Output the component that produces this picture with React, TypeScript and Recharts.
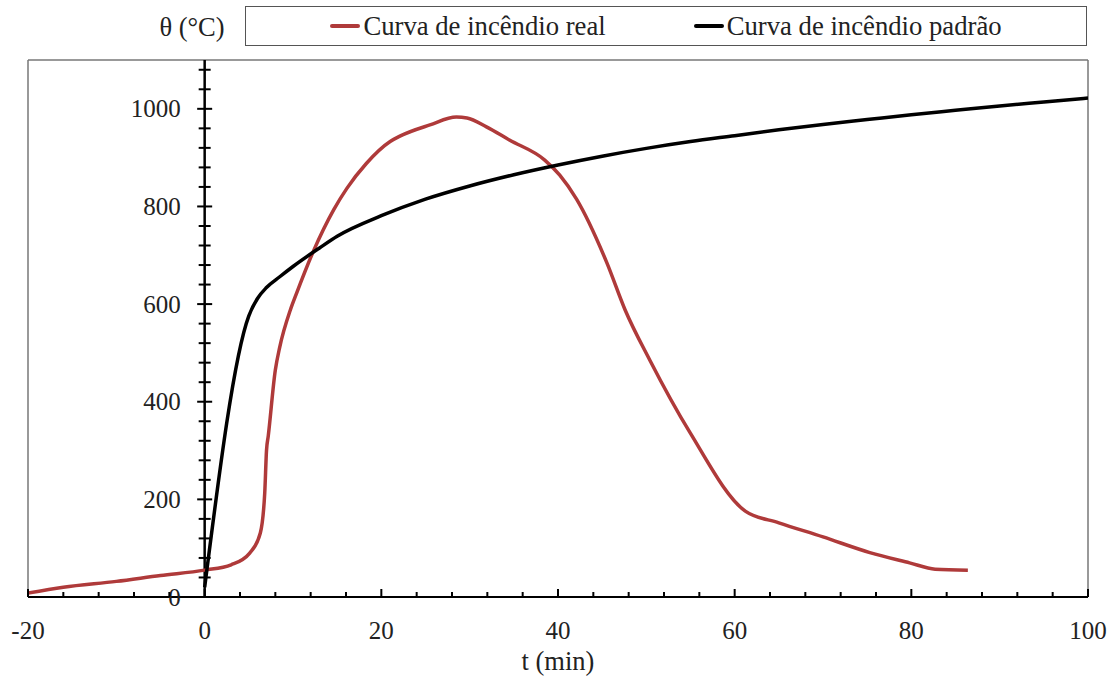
import React from 'react'
import { LineChart, Line, XAxis, YAxis, ReferenceLine, ReferenceDot, Legend } from 'recharts'

// curva de incêndio real (t em min, θ em °C)
const realTime = [-20, -16, -10, -5, 0, 3, 5.1, 6.3, 6.8, 7.0, 7.2, 8, 8.5, 9.7, 10.4, 12.3, 14.6, 16.1, 18.3, 21.0, 22.1, 25.5, 28.5, 29.7, 31.9, 34.5, 38.5, 40.2, 42.1, 45.5, 47.6, 50.4, 55, 61.2, 65, 70, 75.3, 79.8, 82.7, 86.4]
const realTemp = [8, 20, 32, 44, 55, 66, 90, 131, 213, 300, 330, 465, 512, 588, 622, 708, 793, 837, 888, 933, 944, 967, 983, 981, 963, 936, 895, 864, 815, 686, 588, 485, 335, 176, 152, 123, 91, 70, 57, 55]

// curva de incêndio padrão
const isoTime = [0, 5, 6, 7, 8.5, 10, 13, 15, 20, 25, 30, 35, 40, 45, 50, 55, 60, 65, 70, 75, 80, 85, 90, 95, 100]
const isoTemp = [20, 576, 612, 634, 656, 677, 715, 739, 781, 815, 842, 865, 885, 903, 919, 933, 945, 957, 968, 978, 988, 997, 1006, 1014, 1022]

const xTicks = [-20, 0, 20, 40, 60, 80, 100]
const xMinorTicks = [-16, -12, -8, -4, 4, 8, 12, 16, 24, 28, 32, 36, 44, 48, 52, 56, 64, 68, 72, 76, 84, 88, 92, 96]
const yTicks = [0, 200, 400, 600, 800, 1000]
const yMinorTicks = [40, 80, 120, 160, 240, 280, 320, 360, 440, 480, 520, 560, 640, 680, 720, 760, 840, 880, 920, 960, 1040, 1080]

const seriesNames = ['Curva de incêndio real', 'Curva de incêndio padrão']

const realData = realTime.map((t, i) => ({ t, real: realTemp[i] }))
const isoData = isoTime.map((t, i) => ({ t, iso: isoTemp[i] }))

const FONT = '"Liberation Serif", "Times New Roman", serif'
const TEXT = '#222'
const RED = '#AF3A3A'

const YTickMark = (major: boolean, value: number) => (p: any) => (
  <g>
    <line x1={p.cx - (major ? 7.5 : 6)} x2={p.cx + (major ? 7.5 : 6)} y1={p.cy} y2={p.cy} stroke="#000" strokeWidth={2} />
    {major && (
      <text x={p.cx - 24} y={p.cy} textAnchor="end" dominantBaseline="central" fontSize={25} fill={TEXT} fontFamily={FONT}>
        {value}
      </text>
    )}
  </g>
)

const XTickMark = (major: boolean) => (p: any) => (
  <line x1={p.cx} x2={p.cx} y1={p.cy} y2={p.cy - (major ? 8 : 5)} stroke="#000" strokeWidth={2} />
)

const LegendBox = (props: any) => {
  const items = [...(props.payload || [])].sort(
    (a: any, b: any) => seriesNames.indexOf(a.value) - seriesNames.indexOf(b.value)
  )
  return (
    <div
      style={{
        border: '1.5px solid #555',
        height: 40,
        display: 'flex',
        alignItems: 'center',
        justifyContent: 'center',
        gap: 88,
        fontFamily: FONT,
        fontSize: 26.7,
        color: TEXT,
        boxSizing: 'border-box',
        background: '#fff',
      }}
    >
      {items.map((e: any) => (
        <div key={e.value} style={{ display: 'flex', alignItems: 'center' }}>
          <span style={{ display: 'inline-block', width: 30, height: 4, borderRadius: 2, background: e.color, marginRight: 3 }} />
          <span>{e.value}</span>
        </div>
      ))}
    </div>
  )
}

export default function App() {
  return (
    <div style={{ position: 'absolute', left: 0, top: 0, width: 1119, height: 679, background: '#fff' }}>
      <div
        style={{
          position: 'absolute',
          left: 140,
          top: 12,
          width: 104,
          textAlign: 'center',
          fontFamily: FONT,
          fontSize: 26.5,
          color: TEXT,
        }}
      >
        θ (°C)
      </div>
      <LineChart width={1119} height={679} margin={{ top: 60, right: 31, bottom: 22, left: 28 }}>
        <XAxis
          type="number"
          dataKey="t"
          domain={[-20, 100]}
          ticks={xTicks}
          allowDataOverflow
          axisLine={{ stroke: '#000', strokeWidth: 2 }}
          tickLine={false}
          tickSize={0}
          tickMargin={24}
          height={60}
          tick={{ fontSize: 25, fill: TEXT, fontFamily: FONT }}
          label={{ value: 't (min)', position: 'insideBottom', offset: -13, fontSize: 26.5, fill: TEXT, fontFamily: FONT }}
        />
        <YAxis type="number" domain={[0, 1100]} hide width={0} allowDataOverflow />
        <ReferenceLine x={-20} stroke="#777" strokeWidth={1.5} />
        <ReferenceLine x={100} stroke="#777" strokeWidth={1.5} />
        <ReferenceLine y={1100} stroke="#777" strokeWidth={1.5} />
        <ReferenceLine x={0} stroke="#000" strokeWidth={2.5} />
        {yTicks.map((v) => (
          <ReferenceDot key={'y' + v} x={0} y={v} r={0} shape={YTickMark(true, v)} />
        ))}
        {yMinorTicks.map((v) => (
          <ReferenceDot key={'ym' + v} x={0} y={v} r={0} shape={YTickMark(false, v)} />
        ))}
        {xTicks.map((v) => (
          <ReferenceDot key={'x' + v} x={v} y={0} r={0} shape={XTickMark(true)} />
        ))}
        {xMinorTicks.map((v) => (
          <ReferenceDot key={'xm' + v} x={v} y={0} r={0} shape={XTickMark(false)} />
        ))}
        <Legend
          layout="horizontal"
          verticalAlign="middle"
          content={LegendBox}
          wrapperStyle={{ position: 'absolute', left: 245, top: 6, width: 842, height: 40 }}
        />
        <Line
          data={realData}
          dataKey="real"
          name={seriesNames[0]}
          type="monotone"
          stroke={RED}
          strokeWidth={3.5}
          dot={false}
          isAnimationActive={false}
        />
        <Line
          data={isoData}
          dataKey="iso"
          name={seriesNames[1]}
          type="monotone"
          stroke="#000"
          strokeWidth={3.5}
          dot={false}
          isAnimationActive={false}
        />
      </LineChart>
    </div>
  )
}
